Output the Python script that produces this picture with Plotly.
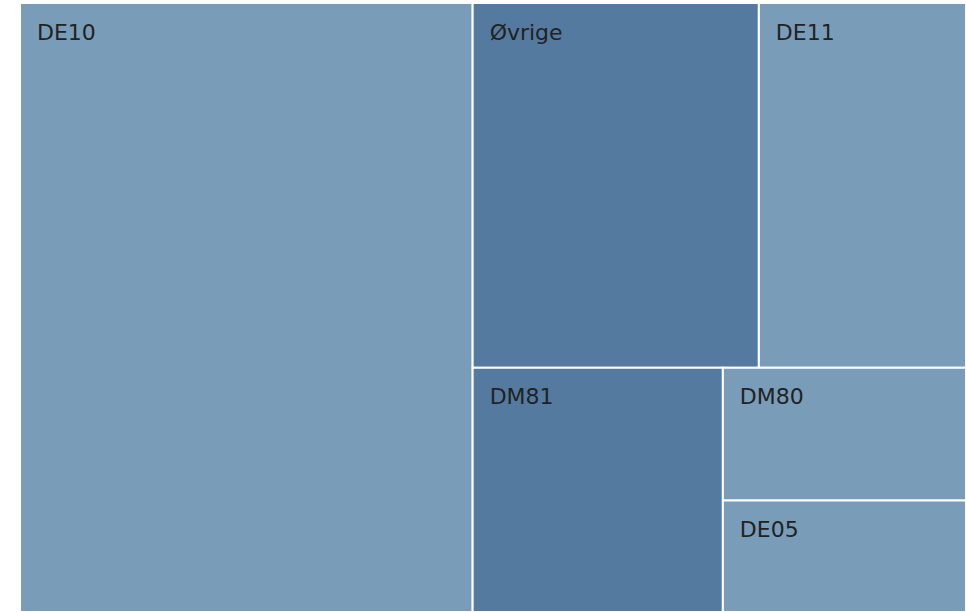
import plotly.graph_objects as go

labels = ["DE10", "Øvrige", "DE11", "DM81", "DM80", "DE05"]
parents = ["", "", "", "", "", ""]
values = [47.8, 18.1, 13.1, 10.6, 5.6, 4.7]
colors = ["#799db8", "#547b9f", "#799db8", "#547b9f", "#799db8", "#799db8"]

fig = go.Figure(go.Treemap(
    labels=labels,
    parents=parents,
    values=values,
    marker=dict(colors=colors, line=dict(color="white", width=2),
                pad=dict(t=0, l=0, r=0, b=0)),
    textposition="top left",
    texttemplate="<span style='font-size:5px'>\u00a0</span><br>\u00a0\u00a0%{label}",
    textfont=dict(family="DejaVu Sans, Verdana, sans-serif", size=22, color="#222222"),
    pathbar=dict(visible=False),
    tiling=dict(pad=0, packing="binary"),
    hoverinfo="label+value",
))
fig.update_layout(
    width=966, height=612,
    margin=dict(l=20, r=0, t=3, b=0),
    paper_bgcolor="white",
)
fig.write_html(
    "out.html",
    config={"displayModeBar": False},
    post_script="document.body.style.margin='0';document.body.style.overflow='hidden';"
                "Plotly.Plots.resize(document.getElementById('{plot_id}'));",
)
